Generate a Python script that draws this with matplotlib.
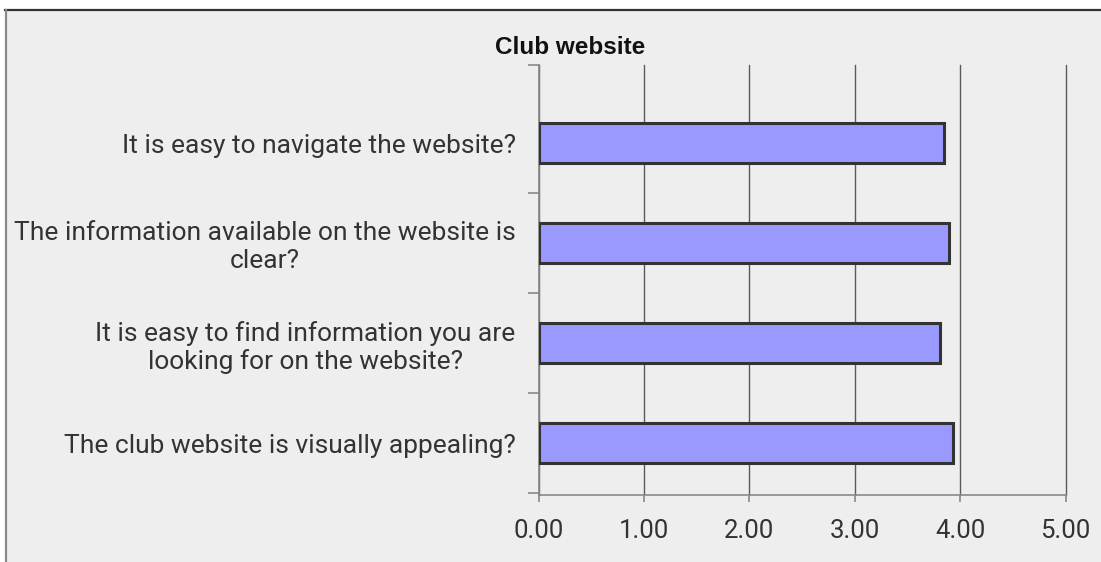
import matplotlib
matplotlib.use("Agg")
import matplotlib.pyplot as plt
from matplotlib.patches import Rectangle
from matplotlib.lines import Line2D
import matplotlib.transforms as mtransforms

title = "Club website"
categories = [
    "The club website is visually appealing?",
    "It is easy to find information you are\nlooking for on the website?",
    "The information available on the website is\nclear?",
    "It is easy to navigate the website?",
]
values = [3.93, 3.81, 3.89, 3.85]
xticks = [0, 1, 2, 3, 4, 5]

W, H = 1101, 562
fig = plt.figure(figsize=(W / 100, H / 100), dpi=100, facecolor="white")

# background panel and border
fig.patches.append(Rectangle((6.5 / W, 0), 1, 1 - 9.5 / H, transform=fig.transFigure,
                             facecolor="#eeeeee", edgecolor="none", zorder=-5))
fig.lines.append(Line2D([5 / W, 1], [1 - 9.5 / H, 1 - 9.5 / H], transform=fig.transFigure,
                        color="#333333", linewidth=1.6))
fig.lines.append(Line2D([6.5 / W, 6.5 / W], [0, 1 - 9.5 / H], transform=fig.transFigure,
                        color="#8a8a8a", linewidth=1.6))

ax = fig.add_axes([538.5 / W, 1 - 495 / H, (1065.5 - 538.5) / W, (495 - 65) / H])
ax.set_facecolor("none")

pos = list(range(len(categories)))
ax.barh(pos, values, height=0.4, color="#9999ff", edgecolor="#333333", linewidth=2.2, zorder=3)

ax.set_xlim(0, 5)
ax.set_ylim(-0.52, 3.78)
ax.set_xticks(xticks)
ax.set_xticklabels([f"{v:.2f}" for v in xticks])
ax.set_yticks([-0.5, 0.5, 1.5, 2.5, 3.78])
ax.set_yticklabels([])
ax.set_yticks(pos, minor=True)
ax.set_yticklabels(categories, minor=True, ha="right", multialignment="center")

ax.grid(axis="x", color="#5a5a5a", linewidth=1.0, zorder=1)
for gl in ax.get_xgridlines():
    gl.set_clip_on(False)
for s in ["top", "right"]:
    ax.spines[s].set_visible(False)
for s in ["left", "bottom"]:
    ax.spines[s].set_color("#888888")
    ax.spines[s].set_linewidth(1.2)

font = ["Roboto", "DejaVu Sans"]
ax.tick_params(axis="y", which="major", length=8, color="#888888", width=1.2)
ax.tick_params(axis="y", which="minor", length=0, pad=0, labelsize=19, labelcolor="#333333")
ax.tick_params(axis="x", length=5, color="#888888", width=1.2, pad=12, labelsize=18.5, labelcolor="#333333")
for lbl in ax.get_xticklabels():
    lbl.set_fontfamily(font)
for lbl in ax.get_yticklabels(minor=True):
    lbl.set_fontfamily(font)

fig.text(570 / W, 1 - 48 / H, title, ha="center", va="center", fontsize=17.5,
         family=["Liberation Sans Narrow", "Liberation Sans", "DejaVu Sans"], fontweight="bold",
         color="#111111")

# shift y labels left to right-align at ~515px
offset = mtransforms.ScaledTranslation(-23 / 100, 0, fig.dpi_scale_trans)
for lbl in ax.get_yticklabels(minor=True):
    lbl.set_transform(lbl.get_transform() + offset)

fig.savefig("out.png", dpi=100, facecolor=fig.get_facecolor())
